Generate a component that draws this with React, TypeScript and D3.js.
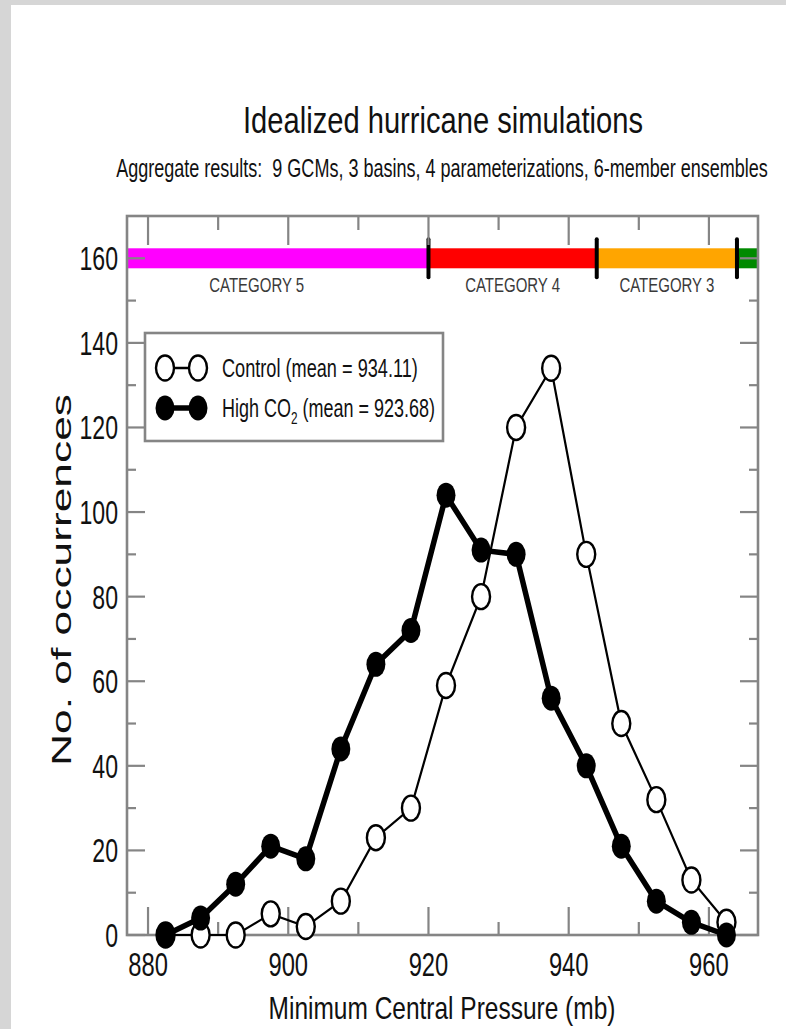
import React, { useEffect, useRef } from 'react';
import * as d3 from 'd3';

// bin centres (mb) and counts
const pressureBins = [882.5, 887.5, 892.5, 897.5, 902.5, 907.5, 912.5, 917.5, 922.5, 927.5, 932.5, 937.5, 942.5, 947.5, 952.5, 957.5, 962.5];
const controlCounts = [0, 0, 0, 5, 2, 8, 23, 30, 59, 80, 120, 134, 90, 50, 32, 13, 3];
const highCO2Counts = [0, 4, 12, 21, 18, 44, 64, 72, 104, 91, 90, 56, 40, 21, 8, 3, 0];

const xMajorTicks = [880, 900, 920, 940, 960];
const xMinorTicks = [890, 910, 930, 950];
const yMajorTicks = [0, 20, 40, 60, 80, 100, 120, 140, 160];
const yMinorTicks = [10, 30, 50, 70, 90, 110, 130, 150];

// Saffir-Simpson bands drawn along the top
const categoryEdges = [877, 920, 944, 964, 967];
const categoryColors = ['#ff00ff', '#ff0000', '#ffa500', '#008a00'];
const categoryNames = ['CATEGORY 5', 'CATEGORY 4', 'CATEGORY 3'];
const categoryLabelAt = [895.5, 932, 954];
const categoryLevel = 160;

const legendLabels = ['Control (mean = 934.11)', 'High CO', '2', ' (mean = 923.68)'];

const W = 786;
const H = 1029;
const M = { left: 127, right: 758, top: 216, bottom: 935 };
const FONT = '"Liberation Sans", Arial, Helvetica, sans-serif';
const AXIS = '#858585';

function fitWidth(t: any, width: number) {
  const node = t.node() as SVGTextElement;
  const w = node.getComputedTextLength();
  const px = +t.attr('x');
  const py = +t.attr('y');
  const sx = w > 0 ? width / w : 1;
  t.attr('transform', `translate(${px},${py}) scale(${sx},1) translate(${-px},${-py})`);
}

function App() {
  const ref = useRef<SVGSVGElement>(null);

  useEffect(() => {
    const svg = d3.select(ref.current);
    svg.selectAll('*').remove();

    const x = d3.scaleLinear().domain([877, 967]).range([M.left, M.right]);
    const y = d3.scaleLinear().domain([0, 170]).range([M.bottom, M.top]);

    // page background
    svg.append('rect').attr('width', W).attr('height', H).attr('fill', '#d6d6d6');
    svg.append('rect').attr('x', 11).attr('y', 5).attr('width', W - 11).attr('height', H - 5).attr('fill', '#fff');

    // titles
    const title = svg.append('text')
      .attr('x', 443).attr('y', 133)
      .attr('text-anchor', 'middle').attr('font-family', FONT).attr('font-size', 37)
      .attr('fill', '#111')
      .text('Idealized hurricane simulations');
    fitWidth(title, 400);

    const sub = svg.append('text')
      .attr('x', 442).attr('y', 177)
      .attr('text-anchor', 'middle').attr('font-family', FONT).attr('font-size', 25)
      .attr('fill', '#111')
      .style('white-space', 'pre')
      .text('Aggregate results:  9 GCMs, 3 basins, 4 parameterizations, 6-member ensembles');
    fitWidth(sub, 652);

    // category bar
    const yc = y(categoryLevel);
    svg.append('g').selectAll('rect')
      .data(categoryColors)
      .enter()
      .append('rect')
      .attr('x', (_, i) => x(categoryEdges[i]))
      .attr('width', (_, i) => x(categoryEdges[i + 1]) - x(categoryEdges[i]))
      .attr('y', yc - 10)
      .attr('height', 20)
      .attr('fill', (d) => d);

    svg.append('g').selectAll('line')
      .data(categoryEdges.slice(1, 4))
      .enter()
      .append('line')
      .attr('x1', (d) => x(d)).attr('x2', (d) => x(d))
      .attr('y1', yc - 19).attr('y2', yc + 19)
      .attr('stroke', '#000').attr('stroke-width', 4).attr('stroke-linecap', 'round');

    categoryNames.forEach((name, i) => {
      const t = svg.append('text')
        .attr('x', x(categoryLabelAt[i])).attr('y', yc + 34)
        .attr('text-anchor', 'middle').attr('font-family', FONT).attr('font-size', 20)
        .attr('fill', '#3a3a3a')
        .text(name);
      fitWidth(t, 95);
    });

    // ticks, all pointing inward
    const ticks = svg.append('g').attr('stroke', AXIS).attr('stroke-width', 2.2);
    xMajorTicks.forEach((v) => {
      ticks.append('line').attr('x1', x(v)).attr('x2', x(v)).attr('y1', M.bottom).attr('y2', M.bottom - 28);
      ticks.append('line').attr('x1', x(v)).attr('x2', x(v)).attr('y1', M.top).attr('y2', M.top + 29);
    });
    xMinorTicks.forEach((v) => {
      ticks.append('line').attr('x1', x(v)).attr('x2', x(v)).attr('y1', M.bottom).attr('y2', M.bottom - 13);
      ticks.append('line').attr('x1', x(v)).attr('x2', x(v)).attr('y1', M.top).attr('y2', M.top + 14);
    });
    yMajorTicks.forEach((v) => {
      ticks.append('line').attr('x1', M.left).attr('x2', M.left + 18).attr('y1', y(v)).attr('y2', y(v));
      ticks.append('line').attr('x1', M.right).attr('x2', M.right - 18).attr('y1', y(v)).attr('y2', y(v));
    });
    yMinorTicks.forEach((v) => {
      ticks.append('line').attr('x1', M.left).attr('x2', M.left + 9).attr('y1', y(v)).attr('y2', y(v));
      ticks.append('line').attr('x1', M.right).attr('x2', M.right - 9).attr('y1', y(v)).attr('y2', y(v));
    });

    // frame
    svg.append('rect')
      .attr('x', M.left).attr('y', M.top)
      .attr('width', M.right - M.left).attr('height', M.bottom - M.top)
      .attr('fill', 'none').attr('stroke', AXIS).attr('stroke-width', 2.6);

    // tick labels
    xMajorTicks.forEach((v) => {
      svg.append('text')
        .attr('transform', `translate(${x(v)},${M.bottom + 41}) scale(0.72,1)`)
        .attr('text-anchor', 'middle').attr('font-family', FONT).attr('font-size', 33)
        .attr('fill', '#111')
        .text(v);
    });
    yMajorTicks.forEach((v) => {
      svg.append('text')
        .attr('transform', `translate(${M.left - 9},${y(v) + 12}) scale(0.7,1)`)
        .attr('text-anchor', 'end').attr('font-family', FONT).attr('font-size', 33)
        .attr('fill', '#111')
        .text(v);
    });

    // axis titles
    const xt = svg.append('text')
      .attr('x', 442).attr('y', 1019)
      .attr('text-anchor', 'middle').attr('font-family', FONT).attr('font-size', 32)
      .attr('fill', '#111')
      .text('Minimum Central Pressure (mb)');
    fitWidth(xt, 347);

    svg.append('text')
      .attr('transform', 'translate(71,580) rotate(-90)')
      .attr('text-anchor', 'middle').attr('font-family', FONT).attr('font-size', 28)
      .attr('fill', '#111')
      .attr('textLength', 372).attr('lengthAdjust', 'spacingAndGlyphs')
      .text('No. of occurrences');

    // series
    const line = d3.line<number>()
      .x((_, i) => x(pressureBins[i]))
      .y((d) => y(d));

    svg.append('path')
      .attr('d', line(controlCounts))
      .attr('fill', 'none').attr('stroke', '#000').attr('stroke-width', 2.2);
    svg.append('g').selectAll('ellipse')
      .data(controlCounts)
      .enter()
      .append('ellipse')
      .attr('cx', (_, i) => x(pressureBins[i]))
      .attr('cy', (d) => y(d))
      .attr('rx', 9).attr('ry', 12.5)
      .attr('fill', '#fff').attr('stroke', '#000').attr('stroke-width', 2.4);

    svg.append('path')
      .attr('d', line(highCO2Counts))
      .attr('fill', 'none').attr('stroke', '#000').attr('stroke-width', 5.5)
      .attr('stroke-linejoin', 'round');
    svg.append('g').selectAll('ellipse')
      .data(highCO2Counts)
      .enter()
      .append('ellipse')
      .attr('cx', (_, i) => x(pressureBins[i]))
      .attr('cy', (d) => y(d))
      .attr('rx', 9.5).attr('ry', 12.5)
      .attr('fill', '#000');

    // legend
    const lg = svg.append('g');
    lg.append('rect')
      .attr('x', 145).attr('y', 333).attr('width', 298).attr('height', 108)
      .attr('fill', '#fff').attr('stroke', AXIS).attr('stroke-width', 2.6);

    lg.append('line').attr('x1', 165).attr('x2', 198).attr('y1', 368).attr('y2', 368)
      .attr('stroke', '#000').attr('stroke-width', 2.4);
    [165, 198].forEach((cx) => {
      lg.append('ellipse').attr('cx', cx).attr('cy', 368).attr('rx', 9).attr('ry', 12.5)
        .attr('fill', '#fff').attr('stroke', '#000').attr('stroke-width', 2.4);
    });
    const l1 = lg.append('text')
      .attr('x', 222).attr('y', 377)
      .attr('font-family', FONT).attr('font-size', 26).attr('fill', '#111')
      .text(legendLabels[0]);
    fitWidth(l1, 196);

    lg.append('line').attr('x1', 165).attr('x2', 198).attr('y1', 408).attr('y2', 408)
      .attr('stroke', '#000').attr('stroke-width', 5.5);
    [165, 198].forEach((cx) => {
      lg.append('ellipse').attr('cx', cx).attr('cy', 408).attr('rx', 9.5).attr('ry', 12.5).attr('fill', '#000');
    });
    const l2 = lg.append('text')
      .attr('x', 222).attr('y', 417)
      .attr('font-family', FONT).attr('font-size', 26).attr('fill', '#111');
    l2.append('tspan').text(legendLabels[1]);
    l2.append('tspan').attr('dy', 7).attr('font-size', 17).text(legendLabels[2]);
    l2.append('tspan').attr('dy', -7).text(legendLabels[3]);
    fitWidth(l2, 213);
  }, []);

  return (
    <svg
      ref={ref}
      width={W}
      height={H}
      style={{ position: 'absolute', left: 0, top: 0, display: 'block' }}
    />
  );
}

export default App;
